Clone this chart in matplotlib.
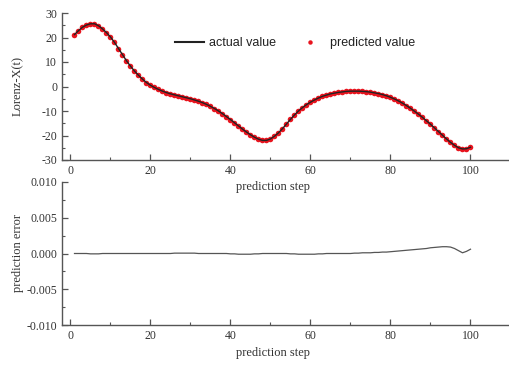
import matplotlib
matplotlib.use("Agg")
import matplotlib.pyplot as plt
from matplotlib.ticker import MultipleLocator, FormatStrFormatter

plt.rcParams["axes.unicode_minus"] = False

steps = list(range(1, 101))
actual = [
    21.2, 22.8, 24.2, 25.1, 25.6, 25.6, 24.8, 23.5, 22.0, 20.2,
    18.0, 15.5, 13.0, 10.5, 8.3, 6.3, 4.6, 3.0, 1.6, 0.5,
    -0.4, -1.2, -1.9, -2.5, -3.0, -3.4, -3.8, -4.2, -4.6, -5.0,
    -5.5, -6.0, -6.6, -7.3, -8.1, -9.0, -10.0, -11.1, -12.3, -13.5,
    -14.8, -16.1, -17.4, -18.6, -19.7, -20.7, -21.5, -22.0, -22.0, -21.4,
    -20.3, -18.9, -17.2, -15.3, -13.4, -11.6, -10.0, -8.6, -7.4, -6.4,
    -5.5, -4.7, -4.0, -3.5, -3.0, -2.7, -2.4, -2.2, -2.0, -1.9,
    -1.9, -1.9, -2.0, -2.1, -2.3, -2.6, -2.9, -3.3, -3.8, -4.4,
    -5.1, -5.9, -6.8, -7.8, -8.9, -10.1, -11.3, -12.6, -14.0, -15.4,
    -16.9, -18.4, -19.9, -21.4, -22.8, -24.0, -25.0, -25.5, -25.4, -24.8,
]
error = [
    0.0, 0.0, 0.0, 0.0, -0.00005, -0.00005, -0.00005, 0.0, 0.0, 0.0,
    0.0, 0.0, 0.0, 0.0, 0.0, 0.0, 0.0, 0.0, 0.0, 0.0,
    0.0, 0.0, 0.0, 0.0, 0.0, 0.00005, 0.00005, 0.00005, 0.00005, 0.00005,
    0.00005, 0.0, 0.0, 0.0, 0.0, 0.0, 0.0, 0.0, 0.0, -0.00005,
    -0.00005, -0.0001, -0.0001, -0.0001, -0.0001, -0.00005, -0.00005, 0.0, 0.0, 0.0,
    0.0, 0.0, 0.0, 0.0, -0.00005, -0.00005, -0.0001, -0.0001, -0.0001, -0.0001,
    -0.0001, -0.00005, -0.00005, 0.0, 0.0, 0.0, 0.0, 0.0, 0.0, 0.0,
    0.00005, 0.00005, 0.0001, 0.0001, 0.0001, 0.00015, 0.00015, 0.0002, 0.0002, 0.00025,
    0.0003, 0.00035, 0.0004, 0.00045, 0.0005, 0.00055, 0.0006, 0.00065, 0.0007, 0.0008,
    0.00085, 0.0009, 0.00095, 0.00095, 0.0009, 0.0007, 0.0004, 0.0001, 0.0003, 0.0006,
]
predicted = [a - e for a, e in zip(actual, error)]

serif = "Liberation Serif"
sans = "Liberation Sans"
spine_c = "#555555"
text_c = "#333333"

fig = plt.figure(figsize=(5.10, 3.67), dpi=100)
W, H = 510, 367
left_px, right_px = 62, 508
ax1 = fig.add_axes([left_px / W, 1 - 160 / H, (right_px - left_px) / W, 147 / H])
ax2 = fig.add_axes([left_px / W, 1 - 325 / H, (right_px - left_px) / W, 143 / H])
ax1.set_zorder(3)
ax1.patch.set_alpha(0)
ax2.patch.set_alpha(0)

xlim = (-2.125, -2.125 + (right_px - left_px) / 4.0)

ax1.plot(steps, predicted, linestyle="none", marker="o", markersize=4.0,
         color="#e8141e", markeredgewidth=0, label="predicted value", zorder=2)
ax1.plot(steps, actual, color="#222222", linewidth=1.0, label="actual value", zorder=3)
ax1.set_ylim(-30, 30)
ax1.yaxis.set_major_locator(MultipleLocator(10))
ax1.yaxis.set_minor_locator(MultipleLocator(5))

ax2.plot(steps, error, color="#555555", linewidth=0.9)
ax2.set_ylim(-0.010, 0.010)
ax2.yaxis.set_major_locator(MultipleLocator(0.005))
ax2.yaxis.set_minor_locator(MultipleLocator(0.0025))
ax2.yaxis.set_major_formatter(FormatStrFormatter("%.3f"))

for ax in (ax1, ax2):
    ax.set_xlim(*xlim)
    ax.xaxis.set_major_locator(MultipleLocator(20))
    ax.xaxis.set_minor_locator(MultipleLocator(10))
    for s in ("top", "right"):
        ax.spines[s].set_visible(False)
    for s in ("left", "bottom"):
        ax.spines[s].set_color(spine_c)
        ax.spines[s].set_linewidth(1.0)
    ax.tick_params(which="major", direction="in", length=4, width=0.9, color=spine_c,
                   labelsize=8.5, labelcolor=text_c, pad=3.5)
    ax.tick_params(which="minor", direction="in", length=2, width=0.8, color=spine_c)
    for lab in ax.get_xticklabels() + ax.get_yticklabels():
        lab.set_fontfamily(serif)
    ax.set_xlabel("prediction step", fontfamily=serif, fontsize=9, color=text_c)

ax1.xaxis.set_label_coords((273 - left_px) / (right_px - left_px), (160 - 181) / 147)
ax2.xaxis.set_label_coords((273 - left_px) / (right_px - left_px), (325 - 347) / 143)

ax1.set_ylabel("Lorenz-X(t)", fontfamily=serif, fontsize=9, color=text_c)
ax2.set_ylabel("prediction error", fontfamily=serif, fontsize=9, color=text_c)
ax1.yaxis.set_label_coords((24 - left_px) / (right_px - left_px), 0.5)
ax2.yaxis.set_label_coords((24 - left_px) / (right_px - left_px), 0.5)

h, l = ax1.get_legend_handles_labels()
leg = ax1.legend(h[::-1], l[::-1], loc="center", bbox_to_anchor=(295 / W, 1 - 43 / H),
                 bbox_transform=fig.transFigure, ncol=2, frameon=False,
                 prop={"family": sans, "size": 9}, handlelength=2.3, handletextpad=0.4,
                 columnspacing=1.6, numpoints=1, markerscale=0.8)
leg.get_lines()[0].set_linewidth(1.5)
for t in leg.get_texts():
    t.set_color("#222222")

fig.savefig("out.png", dpi=100)
